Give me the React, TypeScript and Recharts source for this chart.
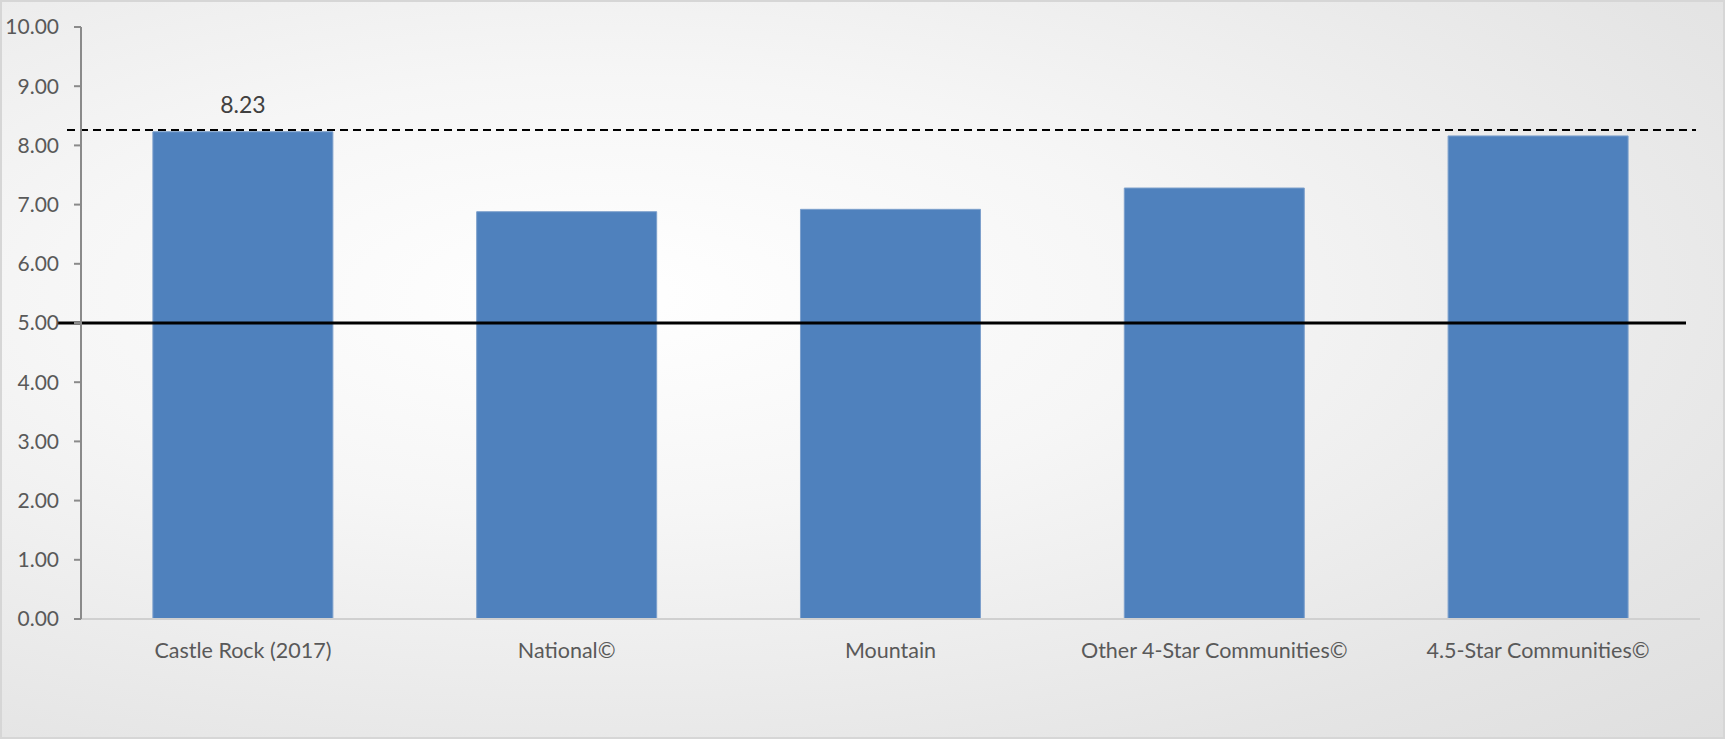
import React from 'react';
import { BarChart, Bar, XAxis, YAxis, ReferenceLine, LabelList } from 'recharts';

const categories = ['Castle Rock (2017)', 'National©', 'Mountain', 'Other 4-Star Communities©', '4.5-Star Communities©'];
const scores = [8.23, 6.88, 6.92, 7.28, 8.16];
const shownLabels = ['8.23', '', '', '', ''];
const yTicks = [0, 1, 2, 3, 4, 5, 6, 7, 8, 9, 10];
const benchmarkValue = 8.26;
const midpointValue = 5;

const data = categories.map((name, i) => ({ name, score: scores[i], label: shownLabels[i] }));

const FONT = 'Lato, "Open Sans", sans-serif';

const makeLine = (extendLeft: number, extendRight: number, dash?: string, width = 2) => (props: any) => (
  <line
    x1={props.x1 - extendLeft}
    x2={props.x2 + extendRight}
    y1={props.y1}
    y2={props.y2}
    stroke="#000"
    strokeWidth={width}
    strokeDasharray={dash}
  />
);

export default function App() {
  return (
    <div
      style={{
        position: 'absolute',
        left: 0,
        top: 0,
        width: 1725,
        height: 739,
        boxSizing: 'border-box',
        border: '2px solid #d6d6d6',
        background: 'radial-gradient(ellipse at 35% 40%, #ffffff 0%, #f6f6f6 35%, #e5e5e5 80%, #dfdfdf 100%)',
      }}
    >
      <div style={{ position: 'absolute', left: -2, top: -2 }}>
        <BarChart
          width={1725}
          height={739}
          data={data}
          margin={{ top: 27, right: 25, bottom: 60, left: 0 }}
          barCategoryGap="22.2%"
        >
          <XAxis
            dataKey="name"
            axisLine={{ stroke: '#d0d0d0', strokeWidth: 2 }}
            tickLine={false}
            tickSize={0}
            tickMargin={24}
            interval={0}
            height={60}
            tick={{ fill: '#595959', fontSize: 21.5, fontFamily: FONT }}
          />
          <YAxis
            domain={[0, 10]}
            ticks={yTicks}
            interval={0}
            width={81}
            tickSize={7}
            tickMargin={15}
            axisLine={{ stroke: '#8a8a8a', strokeWidth: 2 }}
            tickLine={{ stroke: '#8a8a8a', strokeWidth: 2 }}
            tickFormatter={(v: number) => v.toFixed(2)}
            tick={{ fill: '#595959', fontSize: 21, fontFamily: FONT }}
          />
          <Bar dataKey="score" fill="#4f81bd" stroke="#7da0cc" strokeWidth={1} isAnimationActive={false}>
            <LabelList
              dataKey="label"
              position="top"
              offset={19}
              fill="#404040"
              fontSize={23}
              fontFamily={FONT}
            />
          </Bar>
          <ReferenceLine y={benchmarkValue} ifOverflow="visible" shape={makeLine(14, -4, '8 5', 2)} />
          <ReferenceLine y={midpointValue} ifOverflow="visible" shape={makeLine(24, -14, undefined, 3)} />
        </BarChart>
      </div>
    </div>
  );
}
